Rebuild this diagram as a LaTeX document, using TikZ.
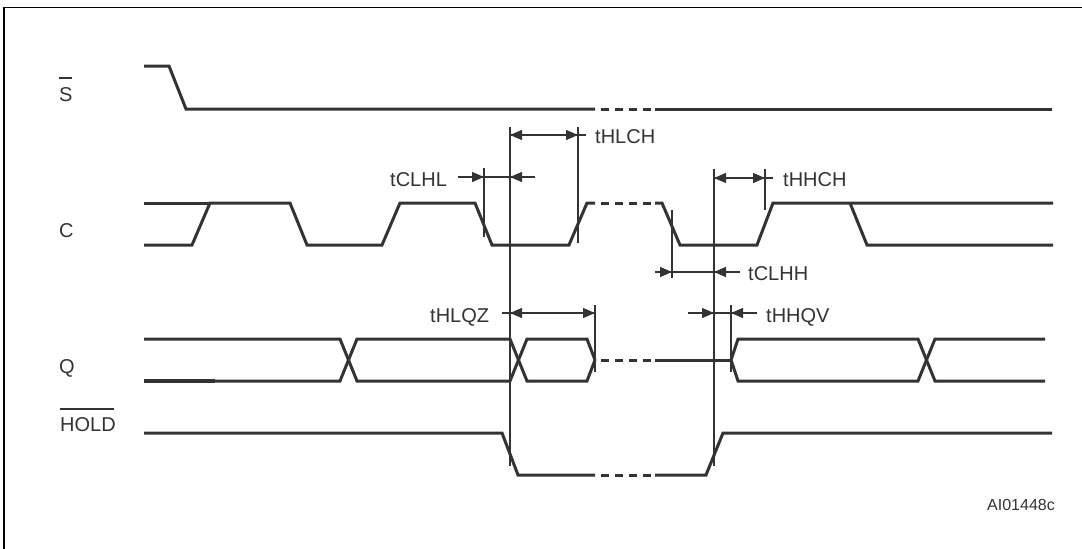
\documentclass[tikz,border=0pt]{standalone}
\usepackage{fontspec}
\setmainfont{Liberation Sans}
\usetikzlibrary{arrows.meta}
\definecolor{sigc}{HTML}{333333}
\begin{document}
\begin{tikzpicture}[x=1pt,y=-1pt,
  sig/.style={line width=3pt, color=sigc, line join=miter},
  gapdash/.style={line width=3pt, color=sigc, dash pattern=on 8pt off 6pt, dash phase=8pt},
  dimline/.style={line width=1.3pt, color=sigc},
  dimarr/.style={line width=1.3pt, color=sigc, -{Triangle[length=12pt,width=10pt]}},
  lbl/.style={anchor=base west, inner sep=0pt, text=sigc, font=\fontsize{20}{22}\selectfont},
  tlbl/.style={anchor=base west, inner sep=0pt, text=sigc, font=\fontsize{20}{22}\selectfont},
  ovl/.style={line width=1.2pt, color=sigc}]
\useasboundingbox (0,0) rectangle (1082,549);
% frame
\draw[line width=1.7pt, black] (4,549) -- (4,7.5) -- (1082,7.5);

% signal labels
\node[lbl] (lblS) at (59,101) {S};
\draw[ovl] (59,78) -- (72,78);
\node[lbl] (lblC) at (59,237) {C};
\node[lbl] (lblQ) at (59,373) {Q};
\node[lbl] (lblH) at (60,431) {HOLD};
\draw[ovl] (60,409) -- (114,409);

% S signal
\draw[sig] (144,66) -- (169,66) -- (186,109) -- (595,109);
\draw[gapdash] (595,109) -- (655,109);
\draw[sig] (655,109) -- (1052,109);

% C signal
\draw[sig] (144,203) -- (210,203);
\draw[sig] (144,245) -- (192,245) -- (210,203) -- (290,203) -- (307,245) -- (382,245)
  -- (400,203) -- (475,203) -- (492,245) -- (569,245) -- (587,203) -- (595,203);
\draw[gapdash] (595,203) -- (655,203);
\draw[sig] (655,203) -- (662,203) -- (680,245) -- (757,245) -- (773,203) -- (1053,203);
\draw[sig] (850,203) -- (867,245) -- (1053,245);

% Q signal
\draw[sig] (144,339) -- (340,339) -- (357,381) -- (510,381) -- (527,339) -- (587,339) -- (595,360);
\draw[sig] (144,381) -- (340,381) -- (357,339) -- (510,339) -- (527,381) -- (587,381) -- (595,360);
\draw[line width=4.5pt, color=sigc] (144,381) -- (215,381);
\draw[gapdash] (595,360) -- (655,360);
\draw[sig] (655,360) -- (731,360);
\draw[sig] (731,360) -- (738,339) -- (918,339) -- (935,381) -- (1045,381);
\draw[sig] (731,360) -- (738,381) -- (918,381) -- (935,339) -- (1045,339);

% HOLD signal
\draw[sig] (144,433) -- (502,433) -- (518,475) -- (595,475);
\draw[gapdash] (595,475) -- (655,475);
\draw[sig] (655,475) -- (706,475) -- (723,433) -- (1052,433);

% reference lines
\draw[dimline] (510,127) -- (510,466);
\draw[dimline] (578,127) -- (578,243);
\draw[dimline] (484,168) -- (484,237);
\draw[dimline] (714,169) -- (714,466);
\draw[dimline] (765,169) -- (765,210);
\draw[dimline] (672,210) -- (672,278);
\draw[dimline] (595,305) -- (595,372);
\draw[dimline] (731,305) -- (731,372);

% tHLCH
\draw[dimline] (510,135) -- (586,135);
\draw[dimarr] (544,135) -- (510,135);
\draw[dimarr] (544,135) -- (578,135);
\node[tlbl] (tHLCH) at (595,143) {tHLCH};

% tCLHL
\draw[dimline] (458,177) -- (535,177);
\draw[dimarr] (458,177) -- (484,177);
\draw[dimarr] (535,177) -- (510,177);
\node[tlbl] (tCLHL) at (390,186.5) {tCLHL};

% tHHCH
\draw[dimline] (714,178) -- (773,178);
\draw[dimarr] (740,178) -- (714,178);
\draw[dimarr] (740,178) -- (765,178);
\node[tlbl] (tHHCH) at (783,186) {tHHCH};

% tCLHH
\draw[dimline] (655,272) -- (740,272);
\draw[dimarr] (655,272) -- (672,272);
\draw[dimarr] (740,272) -- (714,272);
\node[tlbl] (tCLHH) at (748,280) {tCLHH};

% tHLQZ
\draw[dimline] (502,313) -- (595,313);
\draw[dimarr] (552,313) -- (510,313);
\draw[dimarr] (552,313) -- (595,313);
\node[tlbl] (tHLQZ) at (430,322) {tHLQZ};

% tHHQV
\draw[dimline] (688,313) -- (757,313);
\draw[dimarr] (688,313) -- (714,313);
\draw[dimarr] (757,313) -- (731,313);
\node[tlbl] (tHHQV) at (766,322) {tHHQV};

% figure code
\node[anchor=base west, inner sep=0pt, text=sigc, font=\fontsize{16}{18}\selectfont] (code) at (987,510.7) {AI01448c};
\end{tikzpicture}
\end{document}
